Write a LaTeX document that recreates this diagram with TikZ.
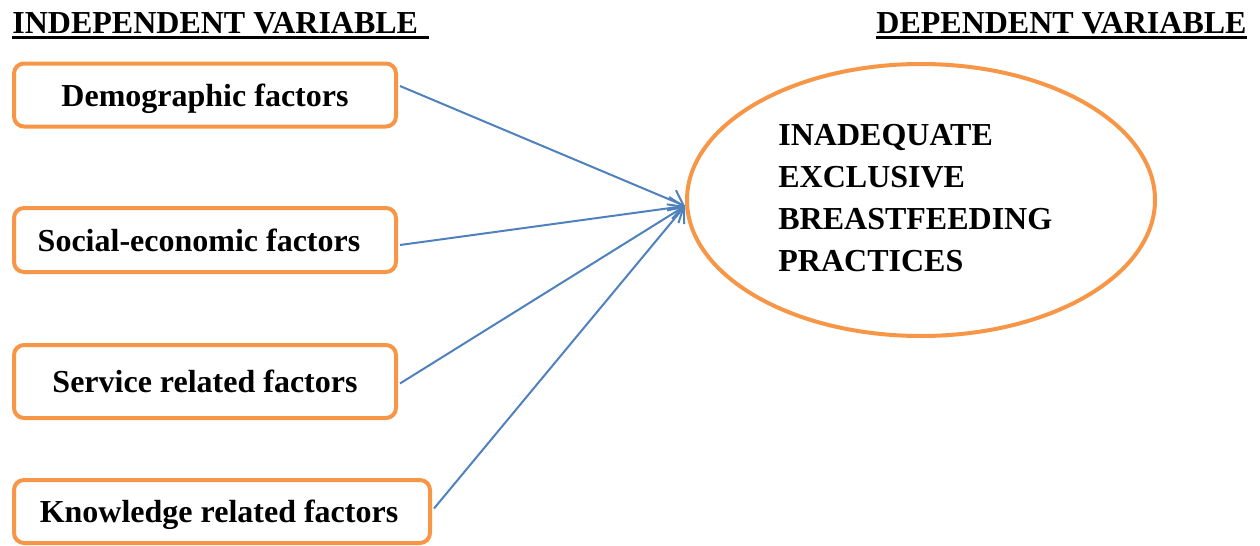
\documentclass[tikz,border=0pt]{standalone}
\usepackage{fontspec}
\setmainfont{Liberation Serif}
\usetikzlibrary{shapes.geometric,arrows.meta,calc}
\definecolor{boxorange}{HTML}{F79646}
\definecolor{arrowblue}{HTML}{4F81BD}
\begin{document}
\begin{tikzpicture}[x=0.5pt,y=-0.5pt,
  factorbox/.style={draw=boxorange,line width=2pt,rounded corners=5pt,
    minimum width=191pt,inner sep=0pt,text height=14pt,text depth=3pt,
    font=\fontsize{16}{19}\selectfont\bfseries},
  titletext/.style={inner sep=0pt,anchor=base west,font=\fontsize{16}{19}\selectfont\bfseries},
  ul/.style={line width=1.3pt,black},
  link/.style={draw=arrowblue,line width=1pt,-{Straight Barb[length=6.5pt,width=11pt]}}]
\useasboundingbox (0,0) rectangle (1260,546);
% titles
\node[titletext] (t1) at (12,33) {INDEPENDENT VARIABLE};
\node[titletext] (t2) at (876,33) {DEPENDENT VARIABLE};
\draw[ul] ($(t1.base west)+(0,4.5)$) -- ($(t1.base east)+(10,4.5)$);
\draw[ul] ($(t2.base west)+(0,4.5)$) -- ($(t2.base east)+(0,4.5)$);
% factor boxes
\node[factorbox,minimum height=31.5pt] (b1) at (205,95) {Demographic factors};
\node[factorbox,minimum height=32pt] (b2) at (205,240) {Social-economic factors\hspace*{6pt}};
\node[factorbox,minimum height=36.5pt] (b3) at (205,381.5) {Service related factors};
\node[factorbox,minimum width=208pt,minimum height=31.5pt] (b4) at (222,511.5) {Knowledge related factors\hspace*{3pt}};
% dependent variable
\node[draw=boxorange,line width=2pt,ellipse,minimum width=234pt,minimum height=136pt,inner sep=0pt] (ell) at (921,200) {};
\node[align=left,inner sep=0pt,font=\fontsize{16}{21}\selectfont\bfseries,anchor=west] (dv) at (778,198)
  {INADEQUATE\\EXCLUSIVE\\BREASTFEEDING\\PRACTICES};
% connectors
\coordinate (tip) at ($(ell.west)+(0,6)$);
\draw[link] ($(b1.east)+(2,-9)$) -- (tip);
\draw[link] ($(b2.east)+(2,5)$) -- (tip);
\draw[link] ($(b3.east)+(2,2)$) -- (tip);
\draw[link] ($(b4.east)+(2,-3)$) -- (tip);
\end{tikzpicture}
\end{document}
